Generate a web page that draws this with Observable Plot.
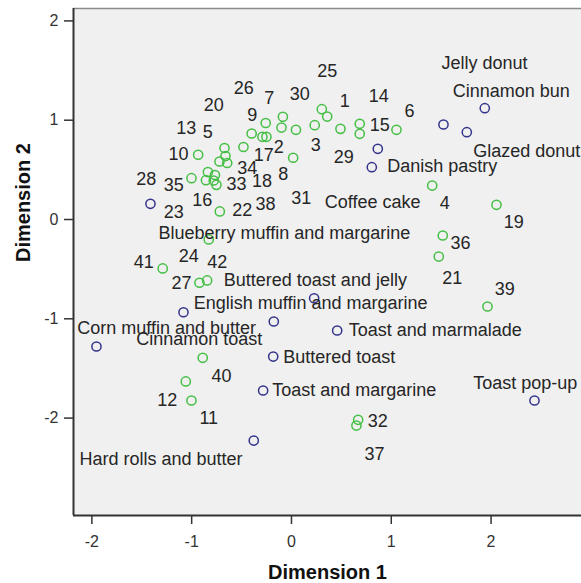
<!DOCTYPE html>
<html>
<head>
<meta charset="utf-8">
<script src="https://cdn.jsdelivr.net/npm/d3@7"></script>
<script src="https://cdn.jsdelivr.net/npm/@observablehq/plot@0.6"></script>
<style>
  html, body { margin: 0; padding: 0; background: #ffffff; }
  #chart svg { display: block; }
</style>
</head>
<body>
<div id="chart"></div>
<script>
// ---- Data ----
const xTicks = [-2, -1, 0, 1, 2];
const yTicks = [-2, -1, 0, 1, 2];
const xTitle = "Dimension 1";
const yTitle = "Dimension 2";

// Breakfast items (object points)
const foodNames = [
  "Blueberry muffin and margarine", "Cinnamon bun", "Jelly donut", "Glazed donut",
  "Coffee cake", "Danish pastry", "Buttered toast and jelly", "Toast and marmalade",
  "Toast pop-up", "English muffin and margarine", "Cinnamon toast", "Corn muffin and butter",
  "Buttered toast", "Toast and margarine", "Hard rolls and butter"
];
const foodX = [-1.413, 1.937, 1.523, 1.757, 0.865, 0.805, 0.227, 0.458, 2.435, -1.082, -0.177, -1.954, -0.183, -0.284, -0.378];
const foodY = [0.158, 1.121, 0.957, 0.879, 0.712, 0.527, -0.793, -1.118, -1.823, -0.934, -1.027, -1.279, -1.380, -1.722, -2.226];
// Label anchors (left edge, vertical middle) in data units
const foodLabelX = [-1.333, 1.616, 1.503, 1.821, 0.334, 0.959, -0.678, 0.574, 1.821, -0.979, -1.556, -2.147, -0.083, -0.193, -2.124];
const foodLabelY = [-0.134, 1.292, 1.578, 0.685, 0.174, 0.537, -0.607, -1.118, -1.645, -0.839, -1.208, -1.091, -1.387, -1.722, -2.417];

// Respondent points
const respX = [-0.935, -1.002, -0.837, -0.767, -0.857, -0.779, -0.752, -0.721, -0.671, -0.661,
               -0.644, -0.481, -0.399, -0.258, -0.291, -0.251, -0.086, -0.100, 0.045, 0.017,
               -0.718, -0.829, 0.304, 0.358, 0.233, 0.491, 0.684, 0.684, 1.052, 1.410,
               2.054, 1.516, 1.476, 1.964, 0.668, 0.651, -1.290, -0.922, -0.845, -0.889,
               -1.059, -1.002];
const respY = [0.652, 0.416, 0.478, 0.448, 0.396, 0.393, 0.349, 0.584, 0.720, 0.639,
               0.569, 0.730, 0.866, 0.972, 0.833, 0.833, 1.034, 0.926, 0.903, 0.622,
               0.081, -0.201, 1.111, 1.037, 0.950, 0.913, 0.964, 0.863, 0.903, 0.342,
               0.148, -0.161, -0.373, -0.876, -2.017, -2.075, -0.493, -0.637, -0.614, -1.393,
               -1.631, -1.823];
// Respondent numbers and their label anchors (centre) in data units
const respIds = ["26", "7", "20", "9", "13", "5", "10", "17", "2", "34",
                 "28", "35", "33", "18", "8", "16", "23", "22", "38", "25",
                 "30", "1", "14", "6", "15", "3", "29", "31", "4", "19",
                 "36", "41", "24", "42", "27", "40", "12", "11", "21", "39",
                 "32", "37"];
const respLabelX = [-0.478, -0.223, -0.779, -0.394, -1.055, -0.839, -1.132, -0.278, -0.127, -0.444,
                    -1.456, -1.179, -0.551, -0.294, -0.083, -0.895, -1.179, -0.494, -0.261, 0.358,
                    0.083, 0.534, 0.875, 1.182, 0.885, 0.243, 0.524, 0.097, 1.536, 2.227,
                    1.693, -1.480, -1.029, -0.744, -1.102, -0.701, -1.245, -0.829, 1.610, 2.137,
                    0.865, 0.832];
const respLabelY = [1.322, 1.226, 1.155, 1.047, 0.919, 0.879, 0.655, 0.645, 0.728, 0.521,
                    0.403, 0.342, 0.360, 0.383, 0.460, 0.191, 0.070, 0.098, 0.151, 1.493,
                    1.259, 1.191, 1.242, 1.088, 0.954, 0.745, 0.627, 0.215, 0.168, -0.027,
                    -0.235, -0.430, -0.373, -0.430, -0.637, -1.581, -1.823, -1.997, -0.587, -0.705,
                    -2.031, -2.367];

// ---- Tables built from the arrays ----
const foods = foodNames.map((name, i) => ({name, x: foodX[i], y: foodY[i], lx: foodLabelX[i], ly: foodLabelY[i]}));
const resp = respX.map((x, i) => ({x, y: respY[i]}));
const respLabels = respIds.map((id, i) => ({id, lx: respLabelX[i], ly: respLabelY[i]}));

const xDomain = [-2.184, 2.906];
const yDomain = [-2.981, 2.125];

const textColor = "#262626";
const green = "#45bf45";
const blue = "#33338c";

const chart = Plot.plot({
  width: 581,
  height: 583,
  marginLeft: 73,
  marginRight: 0,
  marginTop: 8,
  marginBottom: 68,
  style: {fontFamily: "'Liberation Sans', Arial, sans-serif", background: "#ffffff", overflow: "visible"},
  x: {domain: xDomain},
  y: {domain: yDomain},
  marks: [
    Plot.frame({fill: "#f0f0f0", stroke: null}),
    Plot.ruleY([yDomain[1]], {stroke: "#8c8c8c", strokeWidth: 1.5}),
    Plot.axisX({ticks: xTicks, tickSize: 9, tickPadding: 11, label: null, fontSize: 16,
                color: "#333333", strokeWidth: 1.5, tickFormat: d => String(d).replace("−", "-")}),
    Plot.axisY({ticks: yTicks, tickSize: 9, tickPadding: 6, label: null, fontSize: 16,
                color: "#333333", strokeWidth: 1.5, tickFormat: d => String(d).replace("−", "-")}),
    Plot.ruleX([xDomain[0]], {stroke: "#333333", strokeWidth: 2}),
    Plot.ruleY([yDomain[0]], {stroke: "#333333", strokeWidth: 2}),
    Plot.dot(resp, {x: "x", y: "y", r: 4.6, stroke: green, strokeWidth: 1.5, fill: "none"}),
    Plot.dot(foods, {x: "x", y: "y", r: 4.6, stroke: blue, strokeWidth: 1.5, fill: "none"}),
    Plot.text(respLabels, {x: "lx", y: "ly", text: "id", fontSize: 18, fill: textColor,
                           textAnchor: "middle", lineAnchor: "middle"}),
    Plot.text(foods, {x: "lx", y: "ly", text: "name", fontSize: 18, fill: textColor,
                      textAnchor: "start", lineAnchor: "middle"}),
    Plot.text([xTitle], {frameAnchor: "bottom", dy: 57, fontSize: 20, fontWeight: "bold",
                         fill: "#111111", lineAnchor: "middle"}),
    Plot.text([yTitle], {frameAnchor: "left", dx: -50, rotate: -90, fontSize: 20, fontWeight: "bold",
                         fill: "#111111", lineAnchor: "middle"})
  ]
});

document.getElementById("chart").appendChild(chart);
</script>
</body>
</html>
